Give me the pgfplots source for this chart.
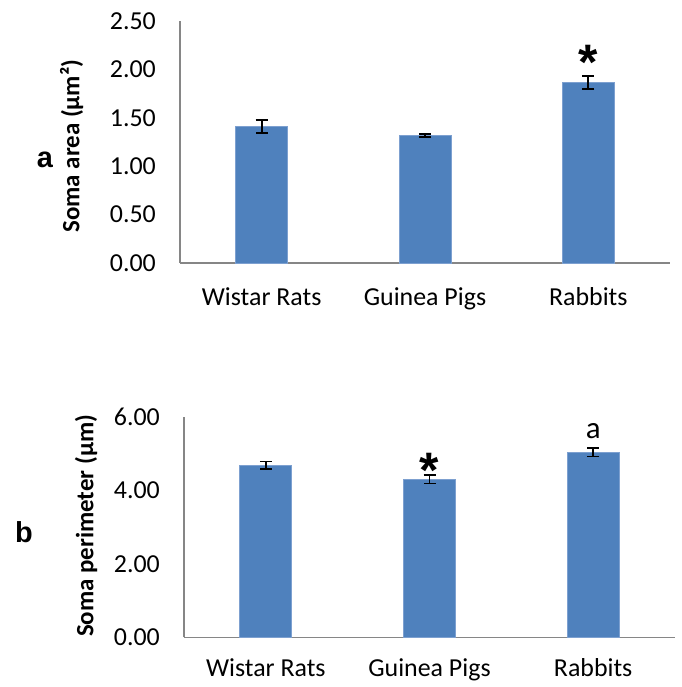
\documentclass[border=0pt]{standalone}
\usepackage{pgfplots}
\pgfplotsset{compat=1.18}
\usepackage{fontspec}
\setmainfont{Carlito}
\newfontfamily\arialfont{Liberation Sans}
\definecolor{barblue}{HTML}{4F81BD}
\definecolor{baredge}{HTML}{7DA0D0}
\definecolor{axgray}{HTML}{868686}
\pgfplotsset{
  panel/.style={
    scale only axis,
    xmin=-0.5, xmax=2.5,
    ymin=0,
    xtick={0,1,2},
    xticklabels={Wistar Rats,Guinea Pigs,Rabbits},
    axis x line*=bottom,
    axis y line*=left,
    axis line style={draw=axgray, line width=1.4bp},
    major tick length=0pt,
    tick style={draw=none},
    ticklabel style={font=\fontsize{26}{30}\selectfont},
    /pgf/number format/assume math mode=true,
    yticklabel style={/pgf/number format/fixed, /pgf/number format/precision=2, /pgf/number format/fixed zerofill, anchor=east, inner sep=0pt, xshift=-24bp},
    xticklabel style={anchor=base, inner sep=0pt},
    ylabel style={font=\bfseries\fontsize{25}{28}\selectfont, rotate=0, anchor=center},
    ybar, bar width=52bp,
    clip=false,
  },
  mybar/.style={fill=barblue, draw=baredge, line width=0.8bp,
    error bars/.cd, y dir=both, y explicit,
    error bar style={black, line width=1.7bp},
    error mark options={black, rotate=90, mark size=6bp, line width=1.7bp}},
}
\begin{document}
\begin{tikzpicture}
\useasboundingbox (0,0) rectangle (682bp,687bp);
% top panel
\begin{axis}[panel, at={(180bp,424bp)}, anchor=south west, width=490bp, height=242bp,
  ymax=2.5, ytick={0,0.5,1,1.5,2,2.5},
  xticklabel style={yshift=-43bp},
  ylabel={Soma area (µm²)},
  ylabel style={at={(axis description cs:-0.221,0.483)}}]
\addplot[mybar] coordinates {(0,1.41) +- (0,0.07) (1,1.32) +- (0,0.015) (2,1.865) +- (0,0.07)};
\node[font=\bfseries\arialfont\fontsize{50}{50}\selectfont] at (axis cs:2,2.07) {*};
\end{axis}
% bottom panel
\begin{axis}[panel, at={(184bp,49.7bp)}, anchor=south west, width=491bp, height=220.6bp,
  ymax=6, ytick={0,2,4,6},
  xticklabel style={yshift=-39bp},
  ylabel={Soma perimeter (µm)},
  ylabel style={at={(axis description cs:-0.1996,0.505)}}]
\addplot[mybar] coordinates {(0,4.68) +- (0,0.10) (1,4.30) +- (0,0.12) (2,5.03) +- (0,0.11)};
\node[font=\bfseries\arialfont\fontsize{50}{50}\selectfont] at (axis cs:1,4.55) {*};
\node[font=\fontsize{31}{31}\selectfont] at (axis cs:2,5.62) {a};
\end{axis}
\node[font=\bfseries\arialfont\fontsize{29}{29}\selectfont] at (45bp,527bp) {a};
\node[font=\bfseries\arialfont\fontsize{29}{29}\selectfont] at (24bp,155bp) {b};
\end{tikzpicture}
\end{document}
